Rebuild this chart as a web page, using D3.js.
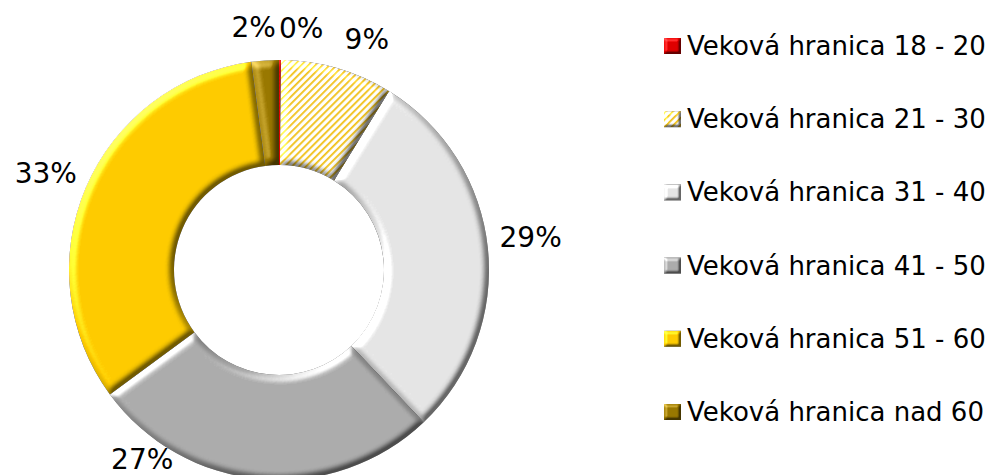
<!DOCTYPE html>
<html>
<head>
<meta charset="utf-8">
<script src="https://cdn.jsdelivr.net/npm/d3@7"></script>
<style>
  body { margin: 0; background: #fff; }
  svg { display: block; }
</style>
</head>
<body>
<div id="chart"></div>
<script>
// data (percent of respondents)
var categories = ["Veková hranica 18 - 20", "Veková hranica 21 - 30", "Veková hranica 31 - 40",
                  "Veková hranica 41 - 50", "Veková hranica 51 - 60", "Veková hranica nad 60"];
var shares = [0.15, 8.65, 29.1, 27.0, 33.0, 2.1];
var fills = ["#e00000", "url(#stripes)", "#e6e6e6", "#adadad", "#ffcc00", "#9a7800"];

// manual nudges of the percent labels, like in the original sheet
var labelNudge = [[21, 6], [19, 8], [5, -7], [-115, -58], [-5, 1], [-9, 5]];

var width = 992, height = 475;
var cx = 279, cy = 270, outerR = 210, innerR = 105, labelR = 248;

var svg = d3.select("#chart").append("svg")
    .attr("width", width)
    .attr("height", height);

var defs = svg.append("defs");

var pat = defs.append("pattern")
    .attr("id", "stripes")
    .attr("patternUnits", "userSpaceOnUse")
    .attr("width", 5)
    .attr("height", 5)
    .attr("patternTransform", "rotate(45)");
pat.append("rect").attr("width", 5).attr("height", 5).attr("fill", "#fff");
pat.append("rect").attr("width", 1.8).attr("height", 5).attr("fill", "#f2c21a");

// bevel: shadows multiply, highlights add
function bevel(id, blur, scale, hi) {
    var f = defs.append("filter").attr("id", id)
        .attr("x", "-10%").attr("y", "-10%").attr("width", "120%").attr("height", "120%")
        .attr("color-interpolation-filters", "sRGB");
    f.append("feGaussianBlur").attr("in", "SourceAlpha").attr("stdDeviation", blur).attr("result", "blur");
    f.append("feDiffuseLighting").attr("in", "blur").attr("surfaceScale", scale)
        .attr("diffuseConstant", 0.707).attr("lighting-color", "#fff").attr("result", "diff")
        .append("feDistantLight").attr("azimuth", 225).attr("elevation", 45);

    var sh = f.append("feComponentTransfer").attr("in", "diff").attr("result", "shade");
    ["feFuncR", "feFuncG", "feFuncB"].forEach(function (fn) {
        sh.append(fn).attr("type", "linear").attr("slope", 1.1).attr("intercept", 0.45);
    });
    var hl = f.append("feComponentTransfer").attr("in", "diff").attr("result", "high");
    ["feFuncR", "feFuncG", "feFuncB"].forEach(function (fn) {
        hl.append(fn).attr("type", "linear").attr("slope", 2).attr("intercept", -1);
    });

    f.append("feComposite").attr("in", "SourceGraphic").attr("in2", "shade")
        .attr("operator", "arithmetic").attr("k1", 1).attr("k2", 0).attr("k3", 0).attr("k4", 0)
        .attr("result", "shaded");
    f.append("feComposite").attr("in", "shaded").attr("in2", "high")
        .attr("operator", "arithmetic").attr("k1", 0).attr("k2", 1).attr("k3", hi).attr("k4", 0)
        .attr("result", "lit");
    f.append("feComposite").attr("in", "lit").attr("in2", "SourceAlpha").attr("operator", "in");
}
bevel("bevel", 3.5, 6, 0.9);
bevel("bevelSmall", 1.5, 4, 0.8);

var pie = d3.pie().sort(null).value(function (d) { return d; });
var arcs = pie(shares);

var arc = d3.arc().innerRadius(innerR).outerRadius(outerR);
var labelArc = d3.arc().innerRadius(labelR).outerRadius(labelR);

var g = svg.append("g").attr("transform", "translate(" + cx + "," + cy + ")");

g.selectAll("path.slice")
    .data(arcs)
    .enter()
    .append("path")
    .attr("class", "slice")
    .attr("d", arc)
    .attr("fill", function (d, i) { return fills[i]; })
    .attr("filter", "url(#bevel)");

g.selectAll("text.pct")
    .data(arcs)
    .enter()
    .append("text")
    .attr("class", "pct")
    .attr("transform", function (d, i) {
        var c = labelArc.centroid(d);
        return "translate(" + (c[0] + labelNudge[i][0]) + "," + (c[1] + labelNudge[i][1]) + ")";
    })
    .attr("text-anchor", "middle")
    .attr("dominant-baseline", "central")
    .attr("font-family", "DejaVu Sans, sans-serif")
    .attr("font-size", 28)
    .attr("fill", "#000")
    .text(function (d) { return Math.round(d.data) + "%"; });

// legend
var legendY = d3.scalePoint().domain(categories).range([46, 412]);

var legend = svg.append("g").attr("class", "legend");
var item = legend.selectAll("g")
    .data(categories)
    .enter()
    .append("g")
    .attr("transform", function (d) { return "translate(664," + legendY(d) + ")"; });

item.append("rect")
    .attr("x", 0)
    .attr("y", -8)
    .attr("width", 17)
    .attr("height", 16)
    .attr("fill", function (d, i) { return fills[i]; })
    .attr("filter", "url(#bevelSmall)");

item.append("text")
    .attr("x", 23)
    .attr("y", 0)
    .attr("dominant-baseline", "central")
    .attr("font-family", "DejaVu Sans, sans-serif")
    .attr("font-size", 26)
    .attr("fill", "#000")
    .text(function (d) { return d; });
</script>
</body>
</html>
